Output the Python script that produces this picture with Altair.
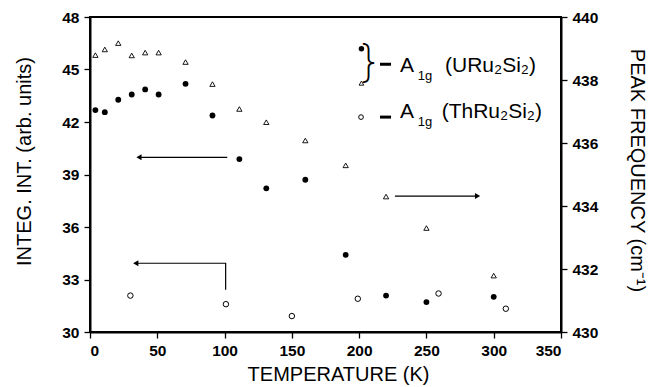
import altair as alt
import pandas as pd

# ---- data ----
T_u = [4, 11, 21, 31, 41, 51, 71, 91, 111, 131, 160, 190, 220, 250, 300]
int_u = [42.68, 42.56, 43.27, 43.57, 43.86, 43.57, 44.18, 42.37, 39.88, 38.21,
         38.70, 34.41, 32.08, 31.71, 32.01]
freq_u = [438.79, 438.97, 439.17, 438.78, 438.87, 438.87, 438.57, 437.87, 437.08,
          436.66, 436.08, 435.29, 434.30, 433.30, 431.79]
T_th = [30, 101, 150, 199, 259, 309]
int_th = [32.08, 31.59, 30.91, 31.90, 32.20, 31.33]

x_ticks = [0, 50, 100, 150, 200, 250, 300, 350]
left_ticks = [30, 33, 36, 39, 42, 45, 48]
right_ticks = [430, 432, 434, 436, 438, 440]

FONT = "Liberation Sans"

common_axis = dict(grid=False, domainColor="black", domainWidth=2, tickColor="black",
                   tickWidth=1.3, tickSize=6, labelFont=FONT, labelFontSize=15.5,
                   labelFontWeight="bold", labelColor="black", labelPadding=5,
                   titleFont=FONT, titleFontSize=20, titleFontWeight="normal",
                   titleColor="black")

xaxis = alt.Axis(values=x_ticks, title="TEMPERATURE (K)", titleX=248, titleY=48,
                 titleBaseline="alphabetic", titleAlign="center", **common_axis)
yaxisL = alt.Axis(values=left_ticks, title="INTEG. INT. (arb. units)", titleAngle=270,
                  titleX=-60, titleY=144, titleBaseline="alphabetic", titleAlign="center",
                  **common_axis)
yaxisR = alt.Axis(values=right_ticks, orient="right", title="PEAK FREQUENCY (cm⁻¹)",
                  titleAngle=90, titleX=69, titleY=153, titleBaseline="alphabetic",
                  titleAlign="center", **common_axis)

xscale = alt.Scale(domain=[0, 350], nice=False, zero=False)
lscale = alt.Scale(domain=[30, 48], nice=False, zero=False)
rscale = alt.Scale(domain=[430, 440], nice=False, zero=False)

def X():
    return alt.X("T:Q", scale=xscale, axis=xaxis)

def YL():
    return alt.Y("v:Q", scale=lscale, axis=yaxisL)

df_u = pd.DataFrame({"T": T_u, "v": int_u})
df_f = pd.DataFrame({"T": T_u, "f": freq_u})
df_th = pd.DataFrame({"T": T_th, "v": int_th})

filled = alt.Chart(df_u).mark_point(shape="circle", filled=True, size=34, color="black",
                                    opacity=1).encode(x=X(), y=YL())
open_c = alt.Chart(df_th).mark_point(shape="circle", filled=False, size=30, color="black",
                                     strokeWidth=1, opacity=1).encode(x=X(), y=YL())

# arrows (annotation, data coordinates)
arrow_lines = pd.DataFrame({
    "T": [102, 38, 100.8, 100.8, 35, 226.6, 287],
    "v": [39.98, 39.98, 32.41, 33.93, 33.93, 37.77, 37.77],
    "g": ["a", "a", "b", "b", "b", "c", "c"],
    "o": [0, 1, 0, 1, 2, 0, 1],
})
lines = alt.Chart(arrow_lines).mark_line(color="black", strokeWidth=1.2).encode(
    x=X(), y=YL(), detail="g:N", order="o:Q")
heads = pd.DataFrame({
    "T": [36.4, 34.0, 288.0],
    "v": [39.98, 33.93, 37.77],
    "s": ["triangle-left", "triangle-left", "triangle-right"],
})
head_pts = alt.Chart(heads).mark_point(filled=True, size=36, color="black", opacity=1).encode(
    x=X(), y=YL(), shape=alt.Shape("s:N", scale=None, legend=None))

# legend
leg_fill = alt.Chart(pd.DataFrame({"T": [201.7], "v": [46.19]})).mark_point(
    shape="circle", filled=True, size=30, color="black", opacity=1).encode(x=X(), y=YL())
leg_tri = alt.Chart(pd.DataFrame({"T": [201.7], "v": [44.22]})).mark_point(
    shape="triangle-up", filled=False, size=22, color="black", strokeWidth=0.9,
    opacity=1).encode(x=X(), y=YL())
leg_open = alt.Chart(pd.DataFrame({"T": [201.4], "v": [42.28]})).mark_point(
    shape="circle", filled=False, size=22, color="black", strokeWidth=1,
    opacity=1).encode(x=X(), y=YL())
brace = alt.Chart(pd.DataFrame({"T": [207.0], "v": [45.3], "t": ["}"]})).mark_text(
    font="Inter", fontWeight=200, fontSize=44, align="center", baseline="middle",
    color="black").encode(x=X(), y=YL(), text="t:N")
dashes = alt.Chart(pd.DataFrame({"T": [215.5, 215.5], "T2": [223.7, 223.7],
                                 "v": [45.30, 42.28]})).mark_rule(
    color="black", strokeWidth=3).encode(x=X(), x2="T2:Q", y=YL())
big = alt.Chart(pd.DataFrame({
    "T": [230.4, 263.8, 230.4, 261.3],
    "v": [44.85, 44.85, 42.22, 42.22],
    "t": ["A", "(URu₂Si₂)", "A", "(ThRu₂Si₂)"],
})).mark_text(font=FONT, fontSize=21, align="left", baseline="alphabetic",
              color="black").encode(x=X(), y=YL(), text="t:N")
small = alt.Chart(pd.DataFrame({
    "T": [243.5, 243.5], "v": [44.39, 41.77], "t": ["1g", "1g"],
})).mark_text(font=FONT, fontSize=13, align="left", baseline="alphabetic",
              color="black").encode(x=X(), y=YL(), text="t:N")

left = alt.layer(lines, head_pts, filled, open_c, leg_fill, leg_tri, leg_open,
                 brace, dashes, big, small)

tri = alt.Chart(df_f).mark_point(shape="triangle-up", filled=False, size=28, color="black",
                                 strokeWidth=0.9, opacity=1).encode(
    x=X(), y=alt.Y("f:Q", scale=rscale, axis=yaxisR))

chart = alt.layer(left, tri).resolve_scale(y="independent").properties(
    width=471, height=315,
    padding={"left": 90, "top": 17, "right": 87, "bottom": 55},
    autosize=alt.AutoSizeParams(type="none"),
    background="white",
).configure_view(stroke="black", strokeWidth=2)

chart.save("out.html", embed_options={"renderer": "svg", "actions": False})
